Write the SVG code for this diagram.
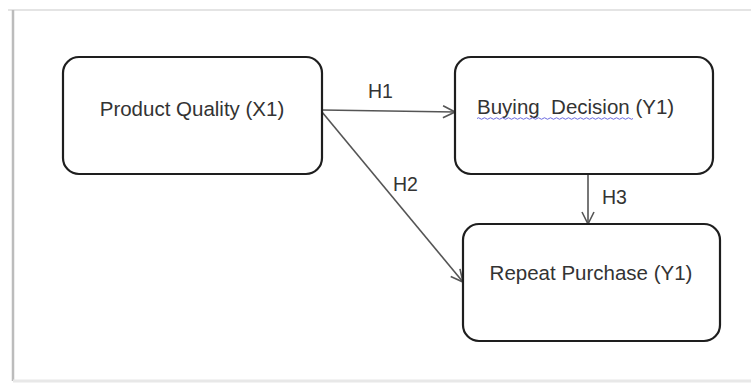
<svg xmlns="http://www.w3.org/2000/svg" width="751" height="383" viewBox="0 0 751 383">
<defs>
<style>
.box{fill:#fff;stroke:#1e1e1e;stroke-width:2.2}
.lbl{font-family:"Liberation Sans",Arial,sans-serif;font-size:20.5px;fill:#333}
.hl{font-family:"Liberation Sans",Arial,sans-serif;font-size:19.5px;fill:#333}
.con{stroke:#555;stroke-width:1.6;fill:none}
</style>
<marker id="arr" viewBox="0 0 14 14" refX="13" refY="7" markerWidth="14" markerHeight="14" markerUnits="userSpaceOnUse" orient="auto">
<path d="M1,1 L13,7 L1,13" fill="none" stroke="#555" stroke-width="1.6"/>
</marker>
</defs>
<rect x="0" y="0" width="751" height="383" fill="#fff"/>
<g id="frame">
<line x1="8" y1="10" x2="751" y2="10" stroke="#e4e4e4" stroke-width="2"/>
<line x1="13" y1="10" x2="13" y2="381" stroke="#bcbcbc" stroke-width="2.5"/>
<line x1="13" y1="381" x2="751" y2="381" stroke="#e8e8e8" stroke-width="3"/>
</g>
<g id="connectors">
<line class="con" x1="322" y1="110" x2="455" y2="112" marker-end="url(#arr)"/>
<line class="con" x1="322" y1="112" x2="463" y2="282" marker-end="url(#arr)"/>
<line class="con" x1="588" y1="174" x2="588" y2="224" marker-end="url(#arr)"/>
<text class="hl" x="368" y="98">H1</text>
<text class="hl" x="393" y="191">H2</text>
<text class="hl" x="602" y="204">H3</text>
</g>
<g id="product-quality">
<rect class="box" x="63" y="57" width="259" height="117" rx="16"/>
<text class="lbl" x="192" y="116" text-anchor="middle">Product Quality (X1)</text>
</g>
<g id="buying-decision">
<rect class="box" x="455" y="57" width="258" height="117" rx="16"/>
<text class="lbl" x="477" y="114" xml:space="preserve">Buying  Decision (Y1)</text>
<path d="M477,118.5 q1.5,-1.5 3,0 t3,0 t3,0 t3,0 t3,0 t3,0 t3,0 t3,0 t3,0 t3,0 t3,0 t3,0 t3,0 t3,0 t3,0 t3,0 t3,0 t3,0 t3,0 t3,0 t3,0 t3,0 t3,0 t3,0 t3,0 t3,0 t3,0 t3,0 t3,0 t3,0 t3,0 t3,0 t3,0 t3,0 t3,0 t3,0 t3,0 t3,0 t3,0 t3,0 t3,0 t3,0 t3,0 t3,0 t3,0 t3,0 t3,0 t3,0 t3,0 t3,0 t3,0 t3,0" fill="none" stroke="#5a5adc" stroke-width="0.9"/>
</g>
<g id="repeat-purchase">
<rect class="box" x="463" y="224" width="257" height="117" rx="16"/>
<text class="lbl" x="591" y="280" text-anchor="middle">Repeat Purchase (Y1)</text>
</g>
</svg>
